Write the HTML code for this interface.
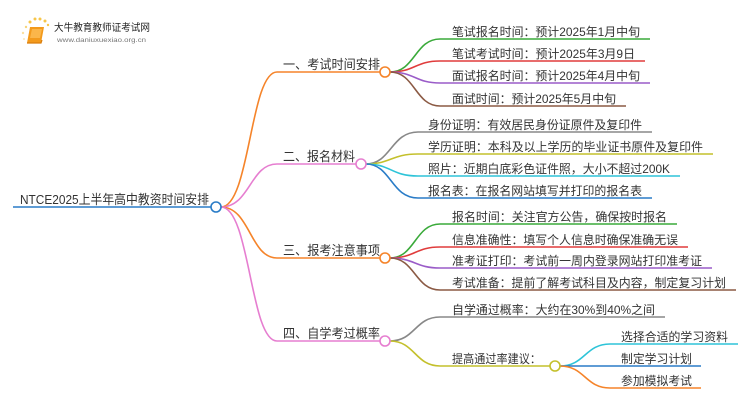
<!DOCTYPE html>
<html><head><meta charset="utf-8"><style>
html,body{margin:0;padding:0;background:#fff;}
svg{display:block;}
text{font-family:"Liberation Sans","Noto Sans CJK SC",sans-serif;fill:#333;}
</style></head><body>
<svg width="750" height="410" viewBox="0 0 750 410" xmlns="http://www.w3.org/2000/svg">
<g>
<circle cx="30" cy="22" r="1.5" fill="#f7c64a"/><circle cx="35" cy="19" r="1.5" fill="#f7c64a"/><circle cx="40" cy="19" r="1.5" fill="#f7c64a"/><circle cx="45" cy="21" r="1.5" fill="#f7c64a"/><circle cx="26" cy="27" r="1.2" fill="#f7d47a"/><circle cx="23" cy="33" r="1.2" fill="#fbe0a0"/><circle cx="24" cy="39" r="1" fill="#fbe6b8"/><circle cx="48" cy="25" r="1.2" fill="#f7c64a"/>
<path d="M30 27 L44 27 L41 43 L27 43 Z" fill="#f39a1c"/>
<path d="M32 29 L42 29 L40 38 L30 38 Z" fill="#fbb64a"/>
<path d="M27 43 L41 43 L42 40" fill="none" stroke="#d97d0c" stroke-width="1.2"/>
<text x="54" y="31" font-size="10" textLength="96" lengthAdjust="spacingAndGlyphs" style="fill:#222">大牛教育教师证考试网</text>
<text x="57" y="42" font-size="6" textLength="89" lengthAdjust="spacingAndGlyphs" style="fill:#777">www.daniuxuexiao.org.cn</text>
</g>
<g fill="none" stroke-width="1.6">
<path d="M13 207 H211" stroke="#2a7cc7"/>
<path d="M221 207 C250 207 250 72 277 72 H380" stroke="#f5842a"/>
<path d="M221 207 C250 207 250 164 277 164 H356" stroke="#e67ed0"/>
<path d="M221 207 C250 207 250 258 277 258 H380" stroke="#f5842a"/>
<path d="M221 207 C250 207 250 341 277 341 H380" stroke="#e67ed0"/>
<path d="M390 72 C415 72 415 39 440 39 H650" stroke="#3aaa3a"/>
<path d="M390 72 C415 72 415 61 440 61 H645" stroke="#e03c3c"/>
<path d="M390 72 C415 72 415 83 440 83 H650" stroke="#9a5cc8"/>
<path d="M390 72 C415 72 415 106 440 106 H626" stroke="#8b5a44"/>
<path d="M366 164 C391 164 391 132 418 132 H652" stroke="#888"/>
<path d="M366 164 C391 164 391 154 418 154 H713" stroke="#c4c02c"/>
<path d="M366 164 C391 164 391 176 418 176 H680" stroke="#2ec4d8"/>
<path d="M366 164 C391 164 391 198 418 198 H652" stroke="#2a7cc7"/>
<path d="M390 258 C415 258 415 224 440 224 H677" stroke="#3aaa3a"/>
<path d="M390 258 C415 258 415 247 440 247 H688" stroke="#e03c3c"/>
<path d="M390 258 C415 258 415 268 440 268 H712" stroke="#9a5cc8"/>
<path d="M390 258 C415 258 415 290 440 290 H736" stroke="#8b5a44"/>
<path d="M390 341 C415 341 415 317 440 317 H665" stroke="#888"/>
<path d="M390 341 C415 341 415 366 440 366 H550" stroke="#c4c02c"/>
<path d="M560 366 C585 366 585 344 610 344 H738" stroke="#2ec4d8"/>
<path d="M560 366 H701" stroke="#2a7cc7"/>
<path d="M560 366 C585 366 585 388 610 388 H701" stroke="#f5842a"/>
</g>
<g fill="#fff" stroke-width="1.6">
<circle cx="216" cy="207" r="5" stroke="#2a7cc7"/>
<circle cx="385" cy="72" r="5" stroke="#f5842a"/>
<circle cx="361" cy="164" r="5" stroke="#e67ed0"/>
<circle cx="385" cy="258" r="5" stroke="#f5842a"/>
<circle cx="385" cy="341" r="5" stroke="#e67ed0"/>
<circle cx="555" cy="366" r="5" stroke="#c4c02c"/>
</g>
<g font-size="13" lengthAdjust="spacingAndGlyphs">
<text x="20" y="204" textLength="189" lengthAdjust="spacingAndGlyphs">NTCE2025上半年高中教资时间安排</text>
<text x="283" y="69" textLength="97" lengthAdjust="spacingAndGlyphs">一、考试时间安排</text>
<text x="283" y="161" textLength="72" lengthAdjust="spacingAndGlyphs">二、报名材料</text>
<text x="283" y="255" textLength="97" lengthAdjust="spacingAndGlyphs">三、报考注意事项</text>
<text x="283" y="338" textLength="97" lengthAdjust="spacingAndGlyphs">四、自学考过概率</text>
</g>
<g font-size="12">
<text x="452" y="36" textLength="188" lengthAdjust="spacingAndGlyphs">笔试报名时间：预计2025年1月中旬</text>
<text x="452" y="58" textLength="183" lengthAdjust="spacingAndGlyphs">笔试考试时间：预计2025年3月9日</text>
<text x="452" y="80" textLength="188" lengthAdjust="spacingAndGlyphs">面试报名时间：预计2025年4月中旬</text>
<text x="452" y="103" textLength="164" lengthAdjust="spacingAndGlyphs">面试时间：预计2025年5月中旬</text>
<text x="428" y="129" textLength="214" lengthAdjust="spacingAndGlyphs">身份证明：有效居民身份证原件及复印件</text>
<text x="428" y="151" textLength="275" lengthAdjust="spacingAndGlyphs">学历证明：本科及以上学历的毕业证书原件及复印件</text>
<text x="428" y="173" textLength="242" lengthAdjust="spacingAndGlyphs">照片：近期白底彩色证件照，大小不超过200K</text>
<text x="428" y="195" textLength="214" lengthAdjust="spacingAndGlyphs">报名表：在报名网站填写并打印的报名表</text>
<text x="452" y="221" textLength="215" lengthAdjust="spacingAndGlyphs">报名时间：关注官方公告，确保按时报名</text>
<text x="452" y="244" textLength="226" lengthAdjust="spacingAndGlyphs">信息准确性：填写个人信息时确保准确无误</text>
<text x="452" y="265" textLength="250" lengthAdjust="spacingAndGlyphs">准考证打印：考试前一周内登录网站打印准考证</text>
<text x="452" y="287" textLength="274" lengthAdjust="spacingAndGlyphs">考试准备：提前了解考试科目及内容，制定复习计划</text>
<text x="452" y="314" textLength="203" lengthAdjust="spacingAndGlyphs">自学通过概率：大约在30%到40%之间</text>
<text x="452" y="363" textLength="89" lengthAdjust="spacingAndGlyphs">提高通过率建议：</text>
<text x="621" y="341" textLength="107" lengthAdjust="spacingAndGlyphs">选择合适的学习资料</text>
<text x="621" y="363" textLength="71" lengthAdjust="spacingAndGlyphs">制定学习计划</text>
<text x="621" y="385" textLength="71" lengthAdjust="spacingAndGlyphs">参加模拟考试</text>
</g>
</svg>
</body></html>
